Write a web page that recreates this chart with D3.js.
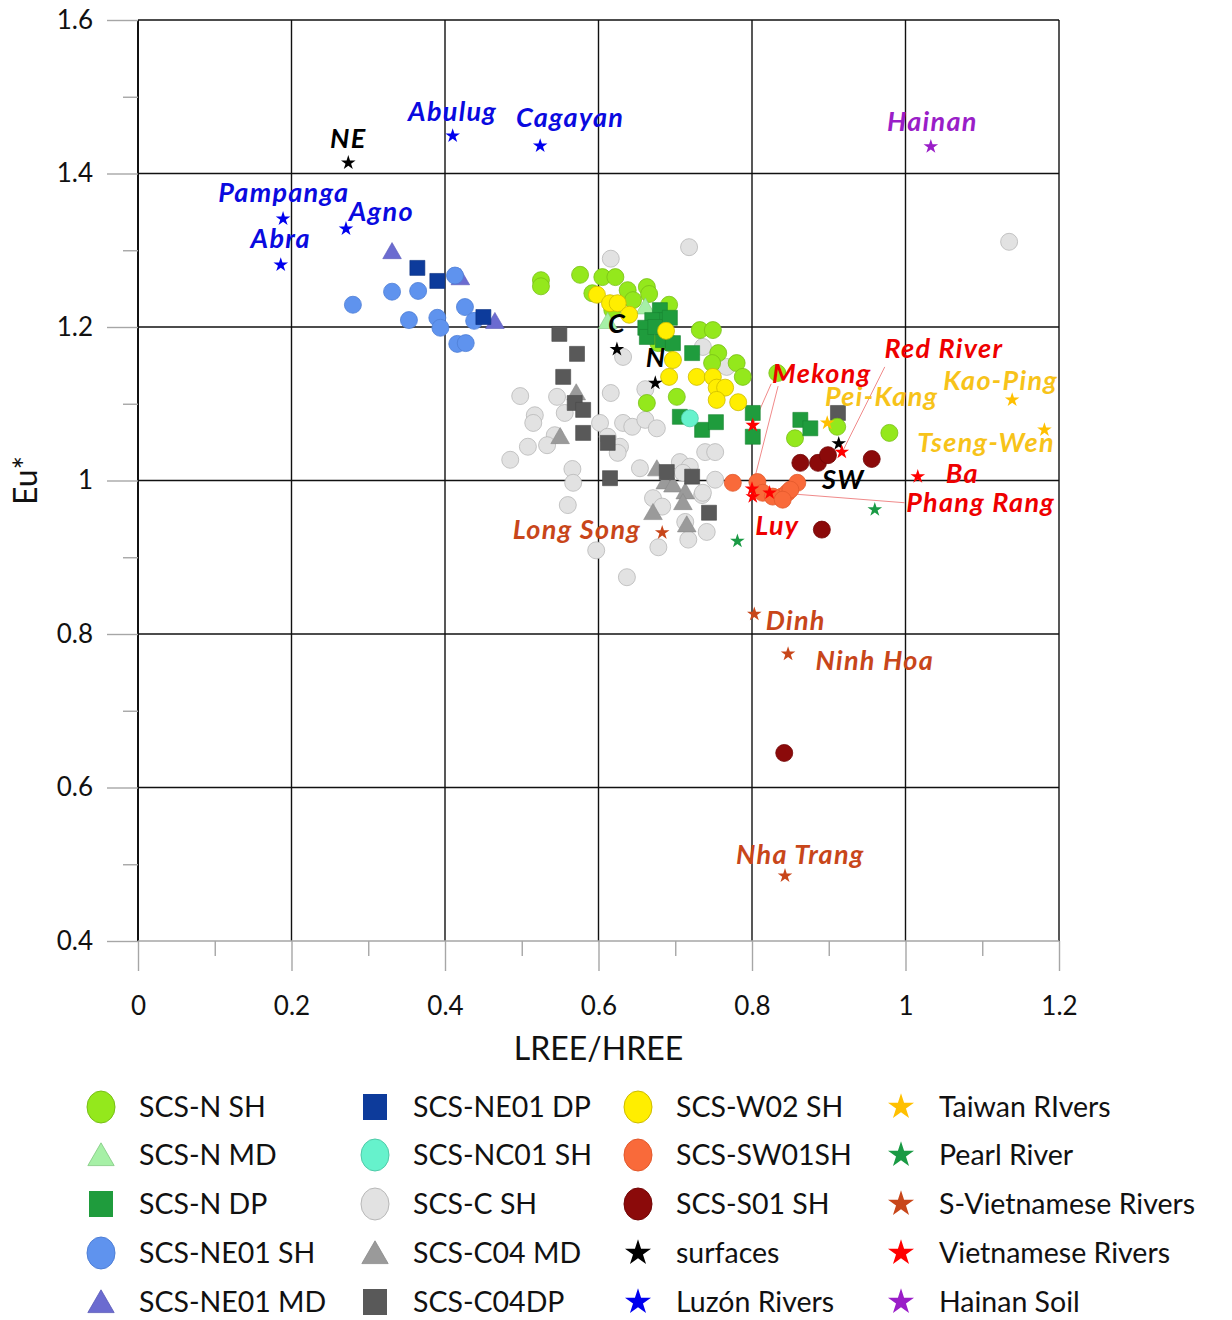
<!DOCTYPE html>
<html>
<head>
<meta charset="utf-8">
<script src="https://cdn.jsdelivr.net/npm/d3@7"></script>
<style>
  body { margin: 0; background: #ffffff; }
  svg { display: block; }
</style>
</head>
<body>
<svg id="chart" width="1232" height="1320"></svg>
<script>
// ---- Axis ticks -------------------------------------------------------
const xTicks = [0, 0.2, 0.4, 0.6, 0.8, 1, 1.2];
const xTickLabels = ["0", "0.2", "0.4", "0.6", "0.8", "1", "1.2"];
const xMinorTicks = [0.1, 0.3, 0.5, 0.7, 0.9, 1.1];
const yTicks = [0.4, 0.6, 0.8, 1, 1.2, 1.4, 1.6];
const yTickLabels = ["0.4", "0.6", "0.8", "1", "1.2", "1.4", "1.6"];
const yMinorTicks = [0.5, 0.7, 0.9, 1.1, 1.3, 1.5];

// ---- Sediment samples: [LREE/HREE, Eu*] --------------------------------
const scsNSH = [
  [0.525,1.261],[0.525,1.253],[0.576,1.268],[0.605,1.265],[0.622,1.265],
  [0.638,1.248],[0.663,1.252],[0.666,1.243],[0.645,1.235],[0.592,1.244],
  [0.692,1.229],[0.618,1.222],[0.732,1.196],[0.749,1.196],[0.693,1.179],
  [0.678,1.179],[0.756,1.166],[0.748,1.153],[0.780,1.153],[0.788,1.135],
  [0.702,1.109],[0.663,1.101],[0.833,1.140],[0.856,1.055],[0.911,1.070],
  [0.979,1.062]
];
const scsNMD = [[0.612,1.207],[0.661,1.226]];
const scsNDP = [
  [0.680,1.222],[0.687,1.209],[0.670,1.209],[0.661,1.199],[0.663,1.187],
  [0.684,1.183],[0.697,1.179],[0.722,1.166],[0.674,1.200],[0.693,1.212],
  [0.735,1.066],[0.753,1.076],[0.801,1.088],[0.801,1.057],[0.863,1.079],
  [0.876,1.068],[0.706,1.083]
];
const scsNE01SH = [
  [0.280,1.229],[0.331,1.246],[0.365,1.247],[0.413,1.267],[0.426,1.226],
  [0.353,1.209],[0.390,1.212],[0.394,1.199],[0.416,1.178],[0.427,1.179],
  [0.438,1.208]
];
const scsNE01MD = [[0.331,1.298],[0.420,1.264],[0.465,1.207]];
const scsNE01DP = [[0.364,1.277],[0.390,1.260],[0.450,1.213]];
const scsNC01SH = [[0.719,1.081]];
const scsCSH = [
  [0.718,1.304],[0.616,1.289],[0.632,1.161],[0.736,1.174],[0.767,1.148],
  [0.498,1.110],[0.546,1.109],[0.616,1.114],[0.661,1.119],[0.517,1.085],
  [0.515,1.075],[0.556,1.088],[0.543,1.059],[0.508,1.044],[0.533,1.046],
  [0.485,1.027],[0.602,1.075],[0.612,1.057],[0.628,1.044],[0.625,1.036],
  [0.632,1.075],[0.644,1.070],[0.661,1.079],[0.676,1.068],[0.566,1.015],
  [0.567,0.997],[0.560,0.968],[0.654,1.016],[0.597,0.909],[0.637,0.874],
  [0.678,0.913],[0.717,0.923],[0.741,0.933],[0.735,0.981],[0.752,1.001],
  [0.739,1.037],[0.752,1.037],[0.706,1.024],[0.719,1.018],[0.710,1.010],
  [0.671,0.977],[0.683,0.966],[0.713,0.946],[1.135,1.311],[0.736,0.984]
];
const scsC04MD = [
  [0.571,1.114],[0.676,1.015],[0.687,0.998],[0.697,0.994],[0.713,0.985],
  [0.710,0.971],[0.671,0.958],[0.715,0.942],[0.550,1.057]
];
const scsC04DP = [
  [0.549,1.191],[0.572,1.165],[0.554,1.135],[0.569,1.101],[0.580,1.092],
  [0.580,1.062],[0.612,1.049],[0.615,1.003],[0.689,1.011],[0.722,1.005],
  [0.744,0.958],[0.912,1.088]
];
const scsW02SH = [
  [0.598,1.242],[0.615,1.231],[0.625,1.231],[0.640,1.216],[0.688,1.195],
  [0.697,1.157],[0.692,1.135],[0.728,1.135],[0.749,1.135],[0.754,1.121],
  [0.765,1.121],[0.754,1.105],[0.782,1.102]
];
const scsSW01SH = [
  [0.775,0.997],[0.807,0.998],[0.814,0.984],[0.839,0.979],[0.846,0.984],
  [0.859,0.997],[0.850,0.988],[0.827,0.979],[0.840,0.975]
];
const scsS01SH = [
  [0.863,1.023],[0.886,1.023],[0.899,1.033],[0.956,1.028],[0.891,0.936],
  [0.842,0.645]
];

// ---- End-member sources: {name, x: LREE/HREE, y: Eu*} --------------------
const surfaces = [
  { name: "NE", x: 0.274, y: 1.414 },
  { name: "C",  x: 0.624, y: 1.171 },
  { name: "N",  x: 0.674, y: 1.127 },
  { name: "SW", x: 0.913, y: 1.048 }
];
const luzonRivers = [
  { name: "Abulug",   x: 0.410, y: 1.449 },
  { name: "Cagayan",  x: 0.524, y: 1.436 },
  { name: "Pampanga", x: 0.189, y: 1.341 },
  { name: "Agno",     x: 0.271, y: 1.328 },
  { name: "Abra",     x: 0.186, y: 1.281 }
];
const taiwanRivers = [
  { name: "Kao-Ping",  x: 1.139, y: 1.105 },
  { name: "Tseng-Wen", x: 1.181, y: 1.066 },
  { name: "Pei-Kang",  x: 0.898, y: 1.075 }
];
const pearlRiver = [
  { name: "", x: 0.960, y: 0.962 },
  { name: "", x: 0.781, y: 0.921 }
];
const sVietRivers = [
  { name: "Long Song", x: 0.683, y: 0.932 },
  { name: "Dinh",      x: 0.803, y: 0.826 },
  { name: "Ninh Hoa",  x: 0.847, y: 0.774 },
  { name: "Nha Trang", x: 0.843, y: 0.485 }
];
const vietRivers = [
  { name: "Mekong",     x: 0.801, y: 1.072 },
  { name: "Red River",  x: 0.917, y: 1.037 },
  { name: "Ba",         x: 1.016, y: 1.005 },
  { name: "Phang Rang", x: 0.823, y: 0.984 },
  { name: "Luy",        x: 0.801, y: 0.979 },
  { name: "",           x: 0.800, y: 0.989 }
];
const hainanSoil = [{ name: "Hainan", x: 1.033, y: 1.435 }];

// ---- Chart setup ----------------------------------------------------------
const FONT = "Lato, Carlito, Calibri, sans-serif";
const svg = d3.select("#chart");
const x = d3.scaleLinear().domain([0, 1.2]).range([138, 1059]);
const y = d3.scaleLinear().domain([0.4, 1.6]).range([941, 20]);

const AXIS_GREY = "#a6a6a6";

// Grid lines (black)
const grid = svg.append("g");
grid.selectAll("line.vx").data(xTicks).join("line")
  .attr("x1", d => x(d)).attr("x2", d => x(d))
  .attr("y1", y(1.6)).attr("y2", y(0.4))
  .attr("stroke", "#111").attr("stroke-width", d => d === 0 ? 2 : 1.4);
grid.selectAll("line.hy").data(yTicks.filter(v => v > 0.4)).join("line")
  .attr("x1", x(0)).attr("x2", x(1.2))
  .attr("y1", d => y(d)).attr("y2", d => y(d))
  .attr("stroke", "#111").attr("stroke-width", 1.4);

// Axes (grey)
function styleAxis(g) {
  g.select(".domain").remove();
  g.selectAll(".tick line").attr("stroke", AXIS_GREY).attr("stroke-width", 1.4);
  g.selectAll(".tick text").attr("fill", "#111").attr("font-family", FONT).attr("font-size", 26);
}
svg.append("g").attr("transform", `translate(0,${y(0.4)})`)
  .call(d3.axisBottom(x).tickValues(xTicks).tickSize(30).tickPadding(26)
        .tickFormat((d, i) => xTickLabels[i]))
  .call(styleAxis);
svg.append("g").attr("transform", `translate(0,${y(0.4)})`)
  .call(d3.axisBottom(x).tickValues(xMinorTicks).tickSize(15).tickFormat(""))
  .call(styleAxis);
svg.append("line")
  .attr("x1", x(0)).attr("x2", x(1.2)).attr("y1", y(0.4)).attr("y2", y(0.4))
  .attr("stroke", AXIS_GREY).attr("stroke-width", 1.6);

svg.append("g").attr("transform", `translate(${x(0)},0)`)
  .call(d3.axisLeft(y).tickValues(yTicks).tickSize(31).tickPadding(14)
        .tickFormat((d, i) => yTickLabels[i]))
  .call(styleAxis);
svg.append("g").attr("transform", `translate(${x(0)},0)`)
  .call(d3.axisLeft(y).tickValues(yMinorTicks).tickSize(15).tickFormat(""))
  .call(styleAxis);

// Axis titles
svg.append("text").attr("x", (x(0) + x(1.2)) / 2).attr("y", 1060)
  .attr("text-anchor", "middle").attr("font-family", FONT).attr("font-size", 32)
  .attr("fill", "#111").text("LREE/HREE");
svg.append("text").attr("transform", `translate(37,${y(1.0)}) rotate(-90)`)
  .attr("text-anchor", "middle").attr("font-family", FONT).attr("font-size", 32)
  .attr("fill", "#111").text("Eu*");

// ---- Series definitions -------------------------------------------------
const series = [
  { key: "SCS-C SH",     data: scsCSH,    shape: "circle",   fill: "#e2e2e2", stroke: "#b8b8b8" },
  { key: "SCS-C04 MD",   data: scsC04MD,  shape: "triangle", fill: "#9a9a9a", stroke: "#8a8a8a" },
  { key: "SCS-C04DP",    data: scsC04DP,  shape: "square",   fill: "#595959", stroke: "#4a4a4a" },
  { key: "SCS-NE01 MD",  data: scsNE01MD, shape: "triangle", fill: "#6b6bd0", stroke: "#5a5ab8" },
  { key: "SCS-NE01 SH",  data: scsNE01SH, shape: "circle",   fill: "#5f93ee", stroke: "#4f7fd6" },
  { key: "SCS-NE01 DP",  data: scsNE01DP, shape: "square",   fill: "#0d3b9b", stroke: "#0a2f80" },
  { key: "SCS-N SH",     data: scsNSH,    shape: "circle",   fill: "#94e81c", stroke: "#78bf16" },
  { key: "SCS-N MD",     data: scsNMD,    shape: "triangle", fill: "#a6f0a6", stroke: "#80c880" },
  { key: "SCS-N DP",     data: scsNDP,    shape: "square",   fill: "#1f9c3d", stroke: "#198533" },
  { key: "SCS-W02 SH",   data: scsW02SH,  shape: "circle",   fill: "#ffee00", stroke: "#cdbb00" },
  { key: "SCS-NC01 SH",  data: scsNC01SH, shape: "circle",   fill: "#66f2cc", stroke: "#4fcaa8" },
  { key: "SCS-SW01SH",   data: scsSW01SH, shape: "circle",   fill: "#f96a3a", stroke: "#e2592c" },
  { key: "SCS-S01 SH",   data: scsS01SH,  shape: "circle",   fill: "#8b0a0a", stroke: "#720606" }
];
const sources = [
  { key: "surfaces",            data: surfaces,     fill: "#000000", label: "#000000" },
  { key: "Luzón Rivers",        data: luzonRivers,  fill: "#0000ee", label: "#0a0adf" },
  { key: "Taiwan RIvers",       data: taiwanRivers, fill: "#ffc000", label: "#f7c31a" },
  { key: "Pearl River",         data: pearlRiver,   fill: "#1a9a44", label: "#1a9a44" },
  { key: "S-Vietnamese Rivers", data: sVietRivers,  fill: "#c8461a", label: "#c8461a" },
  { key: "Vietnamese Rivers",   data: vietRivers,   fill: "#ff0000", label: "#ee0000" },
  { key: "Hainan Soil",         data: hainanSoil,   fill: "#9a1ec8", label: "#9a1ec8" }
];

// Marker path generators
const symbolPath = {
  square:   s => d3.symbol(d3.symbolSquare, s)(),
  triangle: s => d3.symbol(d3.symbolTriangle, s)(),
  star:     s => d3.symbol(d3.symbolStar, s)()
};

// ---- Leader lines (drawn beneath markers) -------------------------------
const leaderLines = [
  [[0.825, 1.126], [0.803, 1.076]],
  [[0.834, 1.123], [0.803, 1.001]],
  [[0.973, 1.148], [0.919, 1.040]],
  [[0.859, 0.982], [0.999, 0.971]]
];
svg.append("g").selectAll("line").data(leaderLines).join("line")
  .attr("x1", d => x(d[0][0])).attr("y1", d => y(d[0][1]))
  .attr("x2", d => x(d[1][0])).attr("y2", d => y(d[1][1]))
  .attr("stroke", "#f08a8a").attr("stroke-width", 1);

// ---- Sample markers -----------------------------------------------------
const pts = svg.append("g");
series.forEach(s => {
  const g = pts.append("g");
  if (s.shape === "circle") {
    g.selectAll("circle").data(s.data).join("circle")
      .attr("cx", d => x(d[0])).attr("cy", d => y(d[1])).attr("r", 8.5)
      .attr("fill", s.fill).attr("stroke", s.stroke).attr("stroke-width", 0.8);
  } else {
    const size = s.shape === "square" ? 225 : 150;
    g.selectAll("path").data(s.data).join("path")
      .attr("d", symbolPath[s.shape](size))
      .attr("transform", d => `translate(${x(d[0])},${y(d[1]) + (s.shape === "triangle" ? 1.5 : 0)})`)
      .attr("fill", s.fill).attr("stroke", s.stroke).attr("stroke-width", 0.6);
  }
});

// ---- Source stars --------------------------------------------------------
sources.forEach(s => {
  pts.append("g").selectAll("path").data(s.data).join("path")
    .attr("d", symbolPath.star(66))
    .attr("transform", d => `translate(${x(d.x)},${y(d.y)})`)
    .attr("fill", s.fill);
});

// ---- Source labels: anchor of each label in data units ---------------------
const labelPlacement = {
  "Abulug":     [0.410, 1.468], "Cagayan":   [0.563, 1.461],
  "NE":         [0.274, 1.433], "Pampanga":  [0.190, 1.363],
  "Agno":       [0.317, 1.338], "Abra":      [0.186, 1.303],
  "Hainan":     [1.035, 1.455], "C":         [0.624, 1.192],
  "N":          [0.675, 1.148], "SW":        [0.919, 0.989],
  "Mekong":     [0.891, 1.127], "Red River": [1.050, 1.160],
  "Kao-Ping":   [1.124, 1.118], "Pei-Kang":  [0.969, 1.097],
  "Tseng-Wen":  [1.105, 1.037], "Ba":        [1.074, 0.997],
  "Phang Rang": [1.098, 0.959], "Luy":       [0.833, 0.929],
  "Long Song":  [0.572, 0.924], "Dinh":      [0.857, 0.805],
  "Ninh Hoa":   [0.960, 0.753], "Nha Trang": [0.863, 0.500]
};
const labels = svg.append("g");
sources.forEach(s => {
  s.data.filter(d => d.name && labelPlacement[d.name]).forEach(d => {
    const [lx, ly] = labelPlacement[d.name];
    labels.append("text")
      .attr("x", x(lx)).attr("y", y(ly))
      .attr("text-anchor", "middle")
      .attr("font-family", FONT).attr("font-weight", "bold").attr("font-style", "italic")
      .attr("font-size", 27).attr("letter-spacing", 1.3).attr("fill", s.label)
      .text(d.name);
  });
});

// ---- Legend ---------------------------------------------------------------
const legendCols = [
  ["SCS-N SH", "SCS-N MD", "SCS-N DP", "SCS-NE01 SH", "SCS-NE01 MD"],
  ["SCS-NE01 DP", "SCS-NC01 SH", "SCS-C SH", "SCS-C04 MD", "SCS-C04DP"],
  ["SCS-W02 SH", "SCS-SW01SH", "SCS-S01 SH", "surfaces", "Luzón Rivers"],
  ["Taiwan RIvers", "Pearl River", "S-Vietnamese Rivers", "Vietnamese Rivers", "Hainan Soil"]
];
const colMarkerX = [101, 375, 638, 901];
const rowY = [1107, 1155, 1204, 1253, 1302];
const legend = svg.append("g");
legendCols.forEach((col, ci) => {
  col.forEach((key, ri) => {
    const cx = colMarkerX[ci], cy = rowY[ri];
    const ser = series.find(s => s.key === key);
    const src = sources.find(s => s.key === key);
    if (ser && ser.shape === "circle") {
      legend.append("ellipse").attr("cx", cx).attr("cy", cy).attr("rx", 14).attr("ry", 16)
        .attr("fill", ser.fill).attr("stroke", ser.stroke).attr("stroke-width", 1);
    } else if (ser && ser.shape === "square") {
      legend.append("rect").attr("x", cx - 12).attr("y", cy - 13).attr("width", 24).attr("height", 26)
        .attr("fill", ser.fill);
    } else if (ser && ser.shape === "triangle") {
      legend.append("path").attr("d", symbolPath.triangle(300))
        .attr("transform", `translate(${cx},${cy + 3})`)
        .attr("fill", ser.fill).attr("stroke", ser.stroke).attr("stroke-width", 0.8);
    } else if (src) {
      legend.append("path").attr("d", symbolPath.star(210))
        .attr("transform", `translate(${cx},${cy})`).attr("fill", src.fill);
    }
    legend.append("text").attr("x", cx + 38).attr("y", cy + 10)
      .attr("font-family", FONT).attr("font-size", 28.5).attr("fill", "#111")
      .text(key);
  });
});
</script>
</body>
</html>
